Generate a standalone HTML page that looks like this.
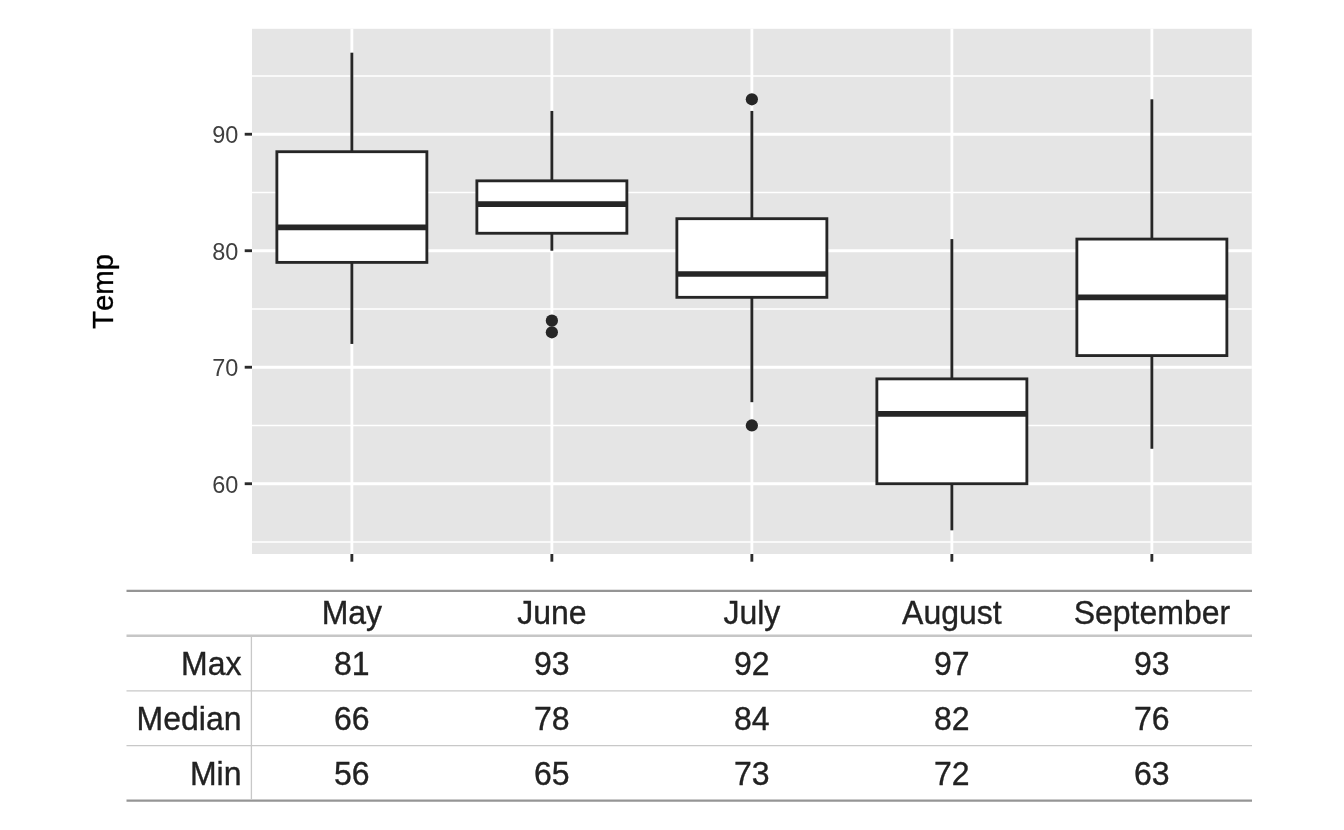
<!DOCTYPE html>
<html lang="en"><head><meta charset="utf-8"><title>Temp by month</title>
<style>html,body{margin:0;padding:0;background:#fff}body{width:1344px;height:830px;overflow:hidden}svg{display:block}text{font-family:"Liberation Sans",Arial,Helvetica,sans-serif;font-kerning:none;font-variant-ligatures:none}</style></head><body>
<svg width="1344" height="830" viewBox="0 0 1344 830">
<rect x="0" y="0" width="1344" height="830" fill="#ffffff"/>
<rect x="252.0" y="28.8" width="999.8" height="525.20" fill="#e5e5e5"/>
<g stroke="#ffffff" stroke-width="1.42" fill="none">
<line x1="252.0" x2="1251.8" y1="541.98" y2="541.98"/>
<line x1="252.0" x2="1251.8" y1="425.48" y2="425.48"/>
<line x1="252.0" x2="1251.8" y1="308.98" y2="308.98"/>
<line x1="252.0" x2="1251.8" y1="192.48" y2="192.48"/>
<line x1="252.0" x2="1251.8" y1="75.98" y2="75.98"/>
</g>
<g stroke="#ffffff" stroke-width="2.84" fill="none">
<line x1="252.0" x2="1251.8" y1="483.73" y2="483.73"/>
<line x1="252.0" x2="1251.8" y1="367.23" y2="367.23"/>
<line x1="252.0" x2="1251.8" y1="250.73" y2="250.73"/>
<line x1="252.0" x2="1251.8" y1="134.23" y2="134.23"/>
<line x1="351.87" x2="351.87" y1="28.8" y2="554.0"/>
<line x1="551.87" x2="551.87" y1="28.8" y2="554.0"/>
<line x1="751.87" x2="751.87" y1="28.8" y2="554.0"/>
<line x1="951.87" x2="951.87" y1="28.8" y2="554.0"/>
<line x1="1151.87" x2="1151.87" y1="28.8" y2="554.0"/>
</g>
<g stroke="#262626" stroke-width="2.84" fill="#ffffff">
<line x1="351.87" x2="351.87" y1="52.68" y2="151.71"/>
<line x1="351.87" x2="351.87" y1="262.38" y2="343.93"/>
<rect x="276.87" y="151.71" width="150" height="110.68"/>
<line x1="276.87" x2="426.87" y1="227.43" y2="227.43" stroke-width="5.68"/>
<line x1="551.87" x2="551.87" y1="110.93" y2="180.83"/>
<line x1="551.87" x2="551.87" y1="233.26" y2="250.73"/>
<rect x="476.87" y="180.83" width="150" height="52.43"/>
<line x1="476.87" x2="626.87" y1="204.13" y2="204.13" stroke-width="5.68"/>
<line x1="751.87" x2="751.87" y1="110.93" y2="218.69"/>
<line x1="751.87" x2="751.87" y1="297.33" y2="402.18"/>
<rect x="676.87" y="218.69" width="150" height="78.64"/>
<line x1="676.87" x2="826.87" y1="274.03" y2="274.03" stroke-width="5.68"/>
<line x1="951.87" x2="951.87" y1="239.08" y2="378.88"/>
<line x1="951.87" x2="951.87" y1="483.73" y2="530.33"/>
<rect x="876.87" y="378.88" width="150" height="104.85"/>
<line x1="876.87" x2="1026.87" y1="413.83" y2="413.83" stroke-width="5.68"/>
<line x1="1151.87" x2="1151.87" y1="99.28" y2="239.08"/>
<line x1="1151.87" x2="1151.87" y1="355.58" y2="448.78"/>
<rect x="1076.87" y="239.08" width="150" height="116.50"/>
<line x1="1076.87" x2="1226.87" y1="297.33" y2="297.33" stroke-width="5.68"/>
</g>
<g fill="#262626" stroke="none">
<circle cx="551.87" cy="332.28" r="6.12"/>
<circle cx="551.87" cy="320.63" r="6.12"/>
<circle cx="751.87" cy="99.28" r="6.12"/>
<circle cx="751.87" cy="425.48" r="6.12"/>
</g>
<g stroke="#2b2b2b" stroke-width="2.84" fill="none">
<line x1="244.70" x2="252.0" y1="483.73" y2="483.73"/>
<line x1="244.70" x2="252.0" y1="367.23" y2="367.23"/>
<line x1="244.70" x2="252.0" y1="250.73" y2="250.73"/>
<line x1="244.70" x2="252.0" y1="134.23" y2="134.23"/>
<line x1="351.87" x2="351.87" y1="554.0" y2="561.70"/>
<line x1="551.87" x2="551.87" y1="554.0" y2="561.70"/>
<line x1="751.87" x2="751.87" y1="554.0" y2="561.70"/>
<line x1="951.87" x2="951.87" y1="554.0" y2="561.70"/>
<line x1="1151.87" x2="1151.87" y1="554.0" y2="561.70"/>
</g>
<g font-size="23.47" fill="#3f3f3f" text-anchor="end">
<text x="238.3" y="492.83">60</text>
<text x="238.3" y="376.33">70</text>
<text x="238.3" y="259.83">80</text>
<text x="238.3" y="143.33">90</text>
</g>
<text transform="translate(112.8,291.5) rotate(-90) scale(1,1.02)" font-size="29.33" fill="#000000" stroke="#000000" stroke-width="0.3" text-anchor="middle">Temp</text>
<g fill="none">
<line x1="126.5" x2="1252" y1="590.85" y2="590.85" stroke="#959595" stroke-width="2.35"/>
<line x1="126.5" x2="1252" y1="635.8" y2="635.8" stroke="#c6c6c6" stroke-width="2.5"/>
<line x1="126.5" x2="1252" y1="690.8" y2="690.8" stroke="#c8c8c8" stroke-width="1.33"/>
<line x1="126.5" x2="1252" y1="745.7" y2="745.7" stroke="#c8c8c8" stroke-width="1.33"/>
<line x1="126.5" x2="1252" y1="800.65" y2="800.65" stroke="#959595" stroke-width="2.35"/>
<line x1="251.4" x2="251.4" y1="636" y2="800" stroke="#c8c8c8" stroke-width="1.33"/>
</g>
<g font-size="32" fill="#222222" stroke="#222222" stroke-width="0.35" text-anchor="middle">
<text transform="translate(351.87,624.00) scale(1,1.02)">May</text>
<text transform="translate(551.87,624.00) scale(1,1.02)">June</text>
<text transform="translate(751.87,624.00) scale(1,1.02)">July</text>
<text transform="translate(951.87,624.00) scale(1,1.02)">August</text>
<text transform="translate(1151.87,624.00) scale(1,1.02)">September</text>
<text transform="translate(351.87,675.00) scale(1,1.02)">81</text>
<text transform="translate(551.87,675.00) scale(1,1.02)">93</text>
<text transform="translate(751.87,675.00) scale(1,1.02)">92</text>
<text transform="translate(951.87,675.00) scale(1,1.02)">97</text>
<text transform="translate(1151.87,675.00) scale(1,1.02)">93</text>
<text transform="translate(351.87,730.00) scale(1,1.02)">66</text>
<text transform="translate(551.87,730.00) scale(1,1.02)">78</text>
<text transform="translate(751.87,730.00) scale(1,1.02)">84</text>
<text transform="translate(951.87,730.00) scale(1,1.02)">82</text>
<text transform="translate(1151.87,730.00) scale(1,1.02)">76</text>
<text transform="translate(351.87,785.00) scale(1,1.02)">56</text>
<text transform="translate(551.87,785.00) scale(1,1.02)">65</text>
<text transform="translate(751.87,785.00) scale(1,1.02)">73</text>
<text transform="translate(951.87,785.00) scale(1,1.02)">72</text>
<text transform="translate(1151.87,785.00) scale(1,1.02)">63</text>
</g>
<g font-size="32" fill="#222222" stroke="#222222" stroke-width="0.35" text-anchor="end">
<text transform="translate(241.5,675.00) scale(1,1.02)">Max</text>
<text transform="translate(241.5,730.00) scale(1,1.02)">Median</text>
<text transform="translate(241.5,785.00) scale(1,1.02)">Min</text>
</g>
</svg></body></html>
